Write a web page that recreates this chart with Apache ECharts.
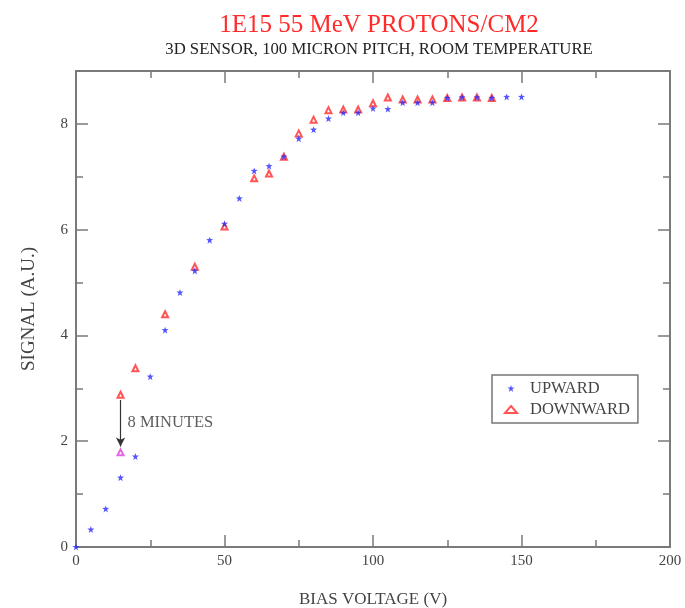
<!DOCTYPE html>
<html>
<head>
<meta charset="utf-8">
<script src="https://cdn.jsdelivr.net/npm/echarts@6/dist/echarts.min.js"></script>
<style>
  html, body { margin: 0; padding: 0; background: #fff; }
  #chart { width: 685px; height: 608px; }
</style>
</head>
<body>
<div id="chart"></div>
<script>
// 数据
const upVoltage = [0, 5, 10, 15, 20, 25, 30, 35, 40, 45, 50, 55, 60, 65, 70, 75, 80, 85, 90, 95,
  100, 105, 110, 115, 120, 125, 130, 135, 140, 145, 150]
const upSignal = [0, 0.33, 0.72, 1.31, 1.71, 3.22, 4.10, 4.81, 5.22, 5.80, 6.11, 6.59, 7.11, 7.20, 7.38, 7.72, 7.89, 8.10, 8.21, 8.21,
  8.29, 8.28, 8.40, 8.40, 8.40, 8.49, 8.50, 8.50, 8.49, 8.51, 8.51]

const downVoltage = [15, 20, 30, 40, 50, 60, 65, 70, 75, 80, 85, 90, 95, 100, 105, 110, 115, 120, 125, 130, 135, 140]
const downSignal = [2.88, 3.38, 4.40, 5.30, 6.06, 6.97, 7.06, 7.38, 7.82, 8.08, 8.26, 8.27, 8.27, 8.39, 8.50, 8.46, 8.46, 8.46, 8.49, 8.50, 8.50, 8.49]

// 8 分钟后的点
const afterVoltage = [15]
const afterSignal = [1.79]

// 箭头与标注
const arrowFrom = [15, 2.78]
const arrowTo = [15, 1.9]
const noteAt = [15, 2.35]
const noteText = '8 MINUTES'

const xTicks = { min: 0, max: 200, interval: 50 }
const yTicks = { min: 0, max: 9, interval: 2 }

const zip = (xs, ys) => xs.map((x, i) => [x, ys[i]])

const FONT = '"Liberation Serif", "DejaVu Serif", serif'
const AXIS_COLOR = '#7a7a7a'
const STAR = 'path://M5,0 L6.2,3.4 L10,3.6 L7,5.9 L8.1,10 L5,7.6 L1.9,10 L3,5.9 L0,3.6 L3.8,3.4 Z'

const baseAxis = {
  axisLine: { show: true, onZero: false, lineStyle: { color: AXIS_COLOR, width: 2 } },
  axisTick: { show: true, inside: true, length: 12, lineStyle: { color: AXIS_COLOR, width: 1.5 } },
  minorTick: { show: true, splitNumber: 2, length: 7, lineStyle: { color: AXIS_COLOR, width: 1.5 } },
  splitLine: { show: false },
  axisLabel: { fontFamily: FONT, fontSize: 15, color: '#444', showMaxLabel: true }
}

const chart = echarts.init(document.getElementById('chart'))

chart.setOption({
  animation: false,
  backgroundColor: '#fff',
  title: [
    {
      text: '1E15 55 MeV PROTONS/CM2',
      left: 374, top: 8, textAlign: 'center',
      textStyle: { fontFamily: FONT, fontSize: 25, fontWeight: 'normal', color: '#ff2a2a' }
    },
    {
      text: '3D SENSOR, 100 MICRON PITCH, ROOM TEMPERATURE',
      left: 374, top: 36, textAlign: 'center',
      textStyle: { fontFamily: FONT, fontSize: 16.7, fontWeight: 'normal', color: '#222' }
    }
  ],
  grid: { left: 76, right: 15, top: 71, bottom: 61, containLabel: false, outerBoundsMode: 'none' },
  legend: {
    orient: 'vertical',
    left: 492, top: 375,
    width: 146,
    padding: [5, 8, 5, 12],
    itemGap: 4,
    itemWidth: 12, itemHeight: 7,
    borderColor: '#777', borderWidth: 1.5,
    data: ['UPWARD', 'DOWNWARD'],
    textStyle: { fontFamily: FONT, fontSize: 16.5, color: '#444', padding: [0, 0, 0, 8] }
  },
  xAxis: [
    Object.assign({}, baseAxis, {
      type: 'value', position: 'bottom',
      min: xTicks.min, max: xTicks.max, interval: xTicks.interval,
      name: 'BIAS VOLTAGE (V)', nameLocation: 'middle', nameGap: 44,
      nameTextStyle: { fontFamily: FONT, fontSize: 17, color: '#444' },
      axisLabel: Object.assign({}, baseAxis.axisLabel, { margin: 7 })
    }),
    Object.assign({}, baseAxis, {
      type: 'value', position: 'top',
      min: xTicks.min, max: xTicks.max, interval: xTicks.interval,
      axisLabel: { show: false }
    })
  ],
  yAxis: [
    Object.assign({}, baseAxis, {
      type: 'value', position: 'left',
      min: yTicks.min, max: yTicks.max, interval: yTicks.interval,
      name: 'SIGNAL (A.U.)', nameLocation: 'middle', nameGap: 37, nameRotate: 90,
      nameTextStyle: { fontFamily: FONT, fontSize: 19, color: '#444' },
      axisLabel: Object.assign({}, baseAxis.axisLabel, { margin: 8, showMaxLabel: false })
    }),
    Object.assign({}, baseAxis, {
      type: 'value', position: 'right',
      min: yTicks.min, max: yTicks.max, interval: yTicks.interval,
      axisLabel: { show: false }
    })
  ],
  series: [
    {
      name: 'UPWARD',
      type: 'scatter',
      symbol: STAR,
      symbolSize: 7,
      itemStyle: { color: '#2a2aff' },
      data: zip(upVoltage, upSignal),
      z: 3
    },
    {
      name: 'DOWNWARD',
      type: 'scatter',
      symbol: 'emptyTriangle',
      symbolSize: 6,
      itemStyle: { color: '#ff2a2a', borderWidth: 1.1 },
      data: zip(downVoltage, downSignal),
      z: 2
    },
    {
      name: 'AFTER',
      type: 'scatter',
      symbol: 'emptyTriangle',
      symbolSize: 6,
      itemStyle: { color: '#e040e0', borderWidth: 1.1 },
      data: zip(afterVoltage, afterSignal),
      markLine: {
        silent: true,
        symbol: ['none', 'arrow'],
        symbolSize: [7, 9],
        lineStyle: { color: '#333', width: 1.2, type: 'solid' },
        label: { show: false },
        data: [[{ coord: arrowFrom }, { coord: arrowTo }]]
      }
    },
    {
      name: 'NOTE',
      type: 'scatter',
      symbolSize: 0,
      silent: true,
      data: [noteAt],
      label: {
        show: true, position: 'right', distance: 7,
        formatter: noteText,
        fontFamily: FONT, fontSize: 16.5, color: '#333'
      }
    }
  ]
})
</script>
</body>
</html>
